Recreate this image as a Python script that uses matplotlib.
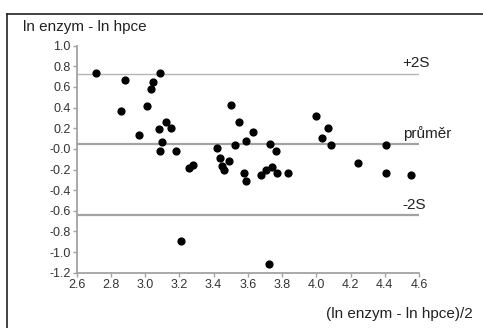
import numpy
import matplotlib
matplotlib.use("Agg")
import matplotlib.pyplot as plt
from matplotlib.lines import Line2D

plt.rcParams['font.family'] = ['Liberation Sans', 'DejaVu Sans']

# prumer (ln enzym + ln hpce)/2 a rozdil ln enzym - ln hpce
x_mean = [2.713, 3.087, 2.883, 3.048, 3.035, 2.857, 3.009, 3.122, 3.080, 3.151,
          2.964, 3.099, 3.087, 3.181,
          3.502, 3.551, 3.629, 3.590, 3.526, 3.730, 3.764, 3.419, 3.438, 3.492,
          3.448, 3.463, 3.257, 3.282, 3.580, 3.590, 3.678, 3.705, 3.742, 3.771,
          3.836,
          3.208,
          3.998, 4.068, 4.036, 4.085, 4.409, 4.241, 4.409, 4.553,
          3.725]
y_diff = [0.740, 0.740, 0.663, 0.646, 0.578, 0.365, 0.411, 0.259, 0.194, 0.204,
          0.139, 0.062, -0.022, -0.022,
          0.426, 0.259, 0.159, 0.078, 0.033, 0.048, -0.022, 0.010, -0.090, -0.122,
          -0.168, -0.209, -0.188, -0.155, -0.235, -0.313, -0.255, -0.203, -0.171, -0.229,
          -0.229,
          -0.897,
          0.314, 0.204, 0.110, 0.033, 0.033, -0.139, -0.229, -0.255,
          -1.120]

prumer = 0.045
plus_2s = 0.73
minus_2s = -0.64

x_ticks = [2.6, 2.8, 3.0, 3.2, 3.4, 3.6, 3.8, 4.0, 4.2, 4.4, 4.6]
x_labels = ["2.6", "2.8", "3.0", "3.2", "3.4", "3.6", "3.8", "4.0", "4.2", "4.4", "4.6"]
y_ticks = [1.0, 0.8, 0.6, 0.4, 0.2, 0.0, -0.2, -0.4, -0.6, -0.8, -1.0, -1.2]
y_labels = ["1.0", "0.8", "0.6", "0.4", "0.2", "-0.0", "-0.2", "-0.4", "-0.6", "-0.8", "-1.0", "-1.2"]

fig = plt.figure(figsize=(4.83, 3.28), dpi=100)
ax = fig.add_axes([0.1588, 0.1686, 0.7087, 0.6921])

grey = "#a3a3a3"
ax.axhline(plus_2s, color="#b5b5b5", lw=1.0, zorder=1)
ax.axhline(prumer, color=grey, lw=1.6, zorder=1)
ax.axhline(minus_2s, color=grey, lw=1.6, zorder=1)

ax.scatter(x_mean, y_diff, s=24, color="black", zorder=3, clip_on=False)

ax.set_xlim(2.6, 4.6)
ax.set_ylim(-1.2, 1.0)
ax.set_xticks(x_ticks)
ax.set_xticklabels(x_labels)
ax.set_yticks(y_ticks)
ax.set_yticklabels(y_labels)

for side in ["top", "right"]:
    ax.spines[side].set_visible(False)
for side in ["left", "bottom"]:
    ax.spines[side].set_color(grey)
    ax.spines[side].set_linewidth(1.3)
ax.tick_params(direction="out", length=3, width=1, color=grey,
               labelsize=9, labelcolor="#333333", pad=1.5)

txt = dict(fontsize=11, color="#222222", ha="left", va="bottom")
ax.text(4.505, plus_2s + 0.03, "+2S", **txt)
ax.text(4.505, prumer + 0.03, "průměr", **txt)
ax.text(4.505, minus_2s + 0.03, "-2S", **txt)

fig.text(0.048, 0.918, "ln enzym - ln hpce", fontsize=11, color="#222222",
         ha="left", va="center")
fig.text(0.979, 0.043, "(ln enzym - ln hpce)/2", fontsize=11, color="#222222",
         ha="right", va="center")

# ramecek kolem grafu (jen horni a leva hrana jsou videt)
fig.add_artist(Line2D([0.0145, 1.0], [0.957, 0.957], transform=fig.transFigure,
                      color="#222222", lw=1.2))
fig.add_artist(Line2D([0.0145, 0.0145], [0.0, 0.957], transform=fig.transFigure,
                      color="#222222", lw=1.2))

fig.savefig("out.png", dpi=100)
